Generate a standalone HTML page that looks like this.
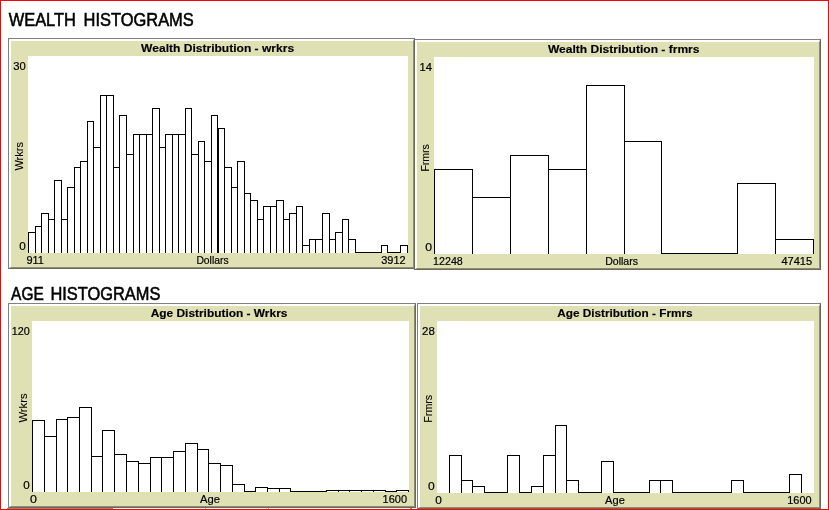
<!DOCTYPE html>
<html><head><meta charset="utf-8"><title>Histograms</title>
<style>
html,body{margin:0;padding:0;background:#fff}
body{width:829px;height:510px;position:relative;overflow:hidden;font-family:"Liberation Sans",sans-serif}
.frame{position:absolute;left:0;top:0;width:829px;height:510px;box-sizing:border-box;border:1px solid #f00}
.p{position:absolute;box-sizing:border-box;border-top:1px solid #808080;border-left:1px solid #808080;border-right:1px solid #6b6b55;border-bottom:1px solid #6b6b55}
.pi{width:100%;height:100%;box-sizing:border-box;border-top:2px solid #fff;border-left:2px solid #fff;border-right:1px solid #8c8c70;border-bottom:1px solid #8c8c70;background:#E0E0B5}
.w{position:absolute;background:#fff}
svg{position:absolute;left:0;top:0}
text{font-family:"Liberation Sans",sans-serif;fill:#000;stroke:#000;stroke-width:0.2px}
text.big{stroke-width:0.55px}
text.b{stroke-width:0.15px}
text.r{stroke-width:0.1px}
</style></head><body>
<div class="p" style="left:414px;top:39px;width:407px;height:231px"><div class="pi"></div></div>
<div class="w" style="left:434px;top:57px;width:380px;height:197px"></div>

<div class="p" style="left:8px;top:38px;width:407px;height:231px"><div class="pi"></div></div>
<div class="w" style="left:28px;top:56px;width:380px;height:197px"></div>

<div class="p" style="left:417px;top:303px;width:404px;height:206px"><div class="pi"></div></div>
<div class="w" style="left:437px;top:321px;width:377px;height:172px"></div>

<div class="p" style="left:8px;top:303px;width:408px;height:205px"><div class="pi"></div></div>
<div class="w" style="left:32px;top:321px;width:377px;height:171px"></div>

<div class="w" style="left:7px;top:508px;width:106px;height:1px;background:#7d8a86"></div>
<div class="w" style="left:205px;top:508px;width:1px;height:1px;background:#9aa"></div><div class="w" style="left:268px;top:508px;width:1px;height:1px;background:#9aa"></div><div class="w" style="left:410px;top:508px;width:2px;height:1px;background:#8090b0"></div>
<svg width="829" height="510" viewBox="0 0 829 510">
<path d="M28.5 232V253M35.5 232V253M28 232.5H36M35.5 226V253M41.5 226V253M35 226.5H42M41.5 213V253M48.5 213V253M41 213.5H49M48.5 219V253M54.5 219V253M48 219.5H55M54.5 180V253M61.5 180V253M54 180.5H62M61.5 219V253M67.5 219V253M61 219.5H68M67.5 187V253M74.5 187V253M67 187.5H75M74.5 167V253M80.5 167V253M74 167.5H81M80.5 161V253M87.5 161V253M80 161.5H88M87.5 121V253M93.5 121V253M87 121.5H94M93.5 147V253M100.5 147V253M93 147.5H101M100.5 95V253M106.5 95V253M100 95.5H107M106.5 95V253M113.5 95V253M106 95.5H114M113.5 167V253M119.5 167V253M113 167.5H120M119.5 115V253M126.5 115V253M119 115.5H127M126.5 154V253M133.5 154V253M126 154.5H134M133.5 134V253M139.5 134V253M133 134.5H140M139.5 134V253M146.5 134V253M139 134.5H147M146.5 134V253M152.5 134V253M146 134.5H153M152.5 108V253M159.5 108V253M152 108.5H160M159.5 147V253M165.5 147V253M159 147.5H166M165.5 134V253M172.5 134V253M165 134.5H173M172.5 134V253M178.5 134V253M172 134.5H179M178.5 134V253M185.5 134V253M178 134.5H186M185.5 108V253M191.5 108V253M185 108.5H192M191.5 154V253M198.5 154V253M191 154.5H199M198.5 141V253M204.5 141V253M198 141.5H205M204.5 161V253M211.5 161V253M204 161.5H212M211.5 115V253M217.5 115V253M211 115.5H218M217.5 128V253M224.5 128V253M217 128.5H225M224.5 167V253M231.5 167V253M224 167.5H232M231.5 187V253M237.5 187V253M231 187.5H238M237.5 161V253M244.5 161V253M237 161.5H245M244.5 193V253M250.5 193V253M244 193.5H251M250.5 200V253M257.5 200V253M250 200.5H258M257.5 219V253M263.5 219V253M257 219.5H264M263.5 206V253M270.5 206V253M263 206.5H271M270.5 206V253M276.5 206V253M270 206.5H277M276.5 200V253M283.5 200V253M276 200.5H284M283.5 219V253M289.5 219V253M283 219.5H290M289.5 213V253M296.5 213V253M289 213.5H297M296.5 206V253M302.5 206V253M296 206.5H303M302.5 245V253M309.5 245V253M302 245.5H310M309.5 239V253M315.5 239V253M309 239.5H316M315.5 239V253M322.5 239V253M315 239.5H323M322.5 213V253M329.5 213V253M322 213.5H330M329.5 239V253M335.5 239V253M329 239.5H336M335.5 232V253M342.5 232V253M335 232.5H343M342.5 219V253M348.5 219V253M342 219.5H349M348.5 239V253M355.5 239V253M348 239.5H356M355 252.5H362M361 252.5H369M368 252.5H375M374 252.5H382M381.5 245V253M387.5 245V253M381 245.5H388M387 252.5H395M394 252.5H401M400.5 245V253M407.5 245V253M400 245.5H408M218.5 128V253M434.5 169V254M472.5 169V254M434 169.5H473M472.5 197V254M510.5 197V254M472 197.5H511M510.5 155V254M548.5 155V254M510 155.5H549M548.5 169V254M586.5 169V254M548 169.5H587M586.5 85V254M624.5 85V254M586 85.5H625M624.5 141V254M661.5 141V254M624 141.5H662M661 253.5H700M699 253.5H738M737.5 183V254M775.5 183V254M737 183.5H776M775.5 239V254M813.5 239V254M775 239.5H814M32.5 420V492M44.5 420V492M32 420.5H45M44.5 436V492M56.5 436V492M44 436.5H57M56.5 419V492M67.5 419V492M56 419.5H68M67.5 417V492M79.5 417V492M67 417.5H80M79.5 407V492M91.5 407V492M79 407.5H92M91.5 456V492M102.5 456V492M91 456.5H103M102.5 430V492M114.5 430V492M102 430.5H115M114.5 454V492M126.5 454V492M114 454.5H127M126.5 461V492M138.5 461V492M126 461.5H139M138.5 463V492M150.5 463V492M138 463.5H151M150.5 457V492M161.5 457V492M150 457.5H162M161.5 457V492M173.5 457V492M161 457.5H174M173.5 451V492M185.5 451V492M173 451.5H186M185.5 443V492M197.5 443V492M185 443.5H198M197.5 449V492M208.5 449V492M197 449.5H209M208.5 463V492M220.5 463V492M208 463.5H221M220.5 465V492M232.5 465V492M220 465.5H233M232.5 484V492M244.5 484V492M232 484.5H245M244 491.5H256M255.5 487V492M267.5 487V492M255 487.5H268M267.5 488V492M279.5 488V492M267 488.5H280M279.5 488V492M290.5 488V492M279 488.5H291M290 491.5H303M302 491.5H315M314 491.5H327M326.5 490V492M338.5 490V492M326 490.5H339M338.5 490V492M349.5 490V492M338 490.5H350M349.5 490V492M361.5 490V492M349 490.5H362M361.5 490V492M373.5 490V492M361 490.5H374M373.5 490V492M385.5 490V492M373 490.5H386M385 491.5H397M396.5 490V492M408.5 490V492M396 490.5H409M449.5 455V493M461.5 455V493M449 455.5H462M461.5 480V493M472.5 480V493M461 480.5H473M472.5 486V493M484.5 486V493M472 486.5H485M484 492.5H497M496 492.5H508M507.5 455V493M519.5 455V493M507 455.5H520M519 492.5H532M531.5 486V493M543.5 486V493M531 486.5H544M543.5 455V493M555.5 455V493M543 455.5H556M555.5 425V493M566.5 425V493M555 425.5H567M566.5 480V493M578.5 480V493M566 480.5H579M578 492.5H591M590 492.5H602M601.5 461V493M613.5 461V493M601 461.5H614M613 492.5H626M625 492.5H638M637 492.5H650M649.5 480V493M660.5 480V493M649 480.5H661M660.5 480V493M672.5 480V493M660 480.5H673M672 492.5H685M684 492.5H696M695 492.5H708M707 492.5H720M719 492.5H732M731.5 480V493M743.5 480V493M731 480.5H744M743 492.5H755M754 492.5H767M766 492.5H779M778 492.5H790M789.5 474V493M801.5 474V493M789 474.5H802" stroke="#000" stroke-width="1" fill="none" shape-rendering="crispEdges"/>
<text y="26" font-size="18" class="big"><tspan x="8.7" textLength="67.2" lengthAdjust="spacingAndGlyphs">WEALTH</tspan> <tspan x="83.5" textLength="110.3" lengthAdjust="spacingAndGlyphs">HISTOGRAMS</tspan></text>
<text y="300" font-size="18" class="big"><tspan x="11.1" textLength="32.6" lengthAdjust="spacingAndGlyphs">AGE</tspan> <tspan x="50.4" textLength="110.0" lengthAdjust="spacingAndGlyphs">HISTOGRAMS</tspan></text>
<text x="141.1" y="52" font-size="11" font-weight="bold" class="b" textLength="153.0" lengthAdjust="spacingAndGlyphs">Wealth Distribution - wrkrs</text>
<text x="13.2" y="70" font-size="11" textLength="12.5" lengthAdjust="spacingAndGlyphs">30</text>
<text x="19.2" y="250" font-size="11" textLength="6.5" lengthAdjust="spacingAndGlyphs">0</text>
<text x="26.4" y="264" font-size="11" textLength="17.5" lengthAdjust="spacingAndGlyphs">911</text>
<text x="196.4" y="264" font-size="11" textLength="32.2" lengthAdjust="spacingAndGlyphs">Dollars</text>
<text x="381.2" y="264" font-size="11" textLength="24.4" lengthAdjust="spacingAndGlyphs">3912</text>
<text class="r" transform="translate(23.4,170.6) rotate(-90)" font-size="11" textLength="28.6" lengthAdjust="spacingAndGlyphs">Wrkrs</text>
<text x="547.9" y="53" font-size="11" font-weight="bold" class="b" textLength="151.6" lengthAdjust="spacingAndGlyphs">Wealth Distribution - frmrs</text>
<text x="419.6" y="71" font-size="11" textLength="12.5" lengthAdjust="spacingAndGlyphs">14</text>
<text x="425.2" y="251" font-size="11" textLength="6.8" lengthAdjust="spacingAndGlyphs">0</text>
<text x="433.1" y="265" font-size="11" textLength="29.7" lengthAdjust="spacingAndGlyphs">12248</text>
<text x="605.2" y="265" font-size="11" textLength="32.8" lengthAdjust="spacingAndGlyphs">Dollars</text>
<text x="781.4" y="265" font-size="11" textLength="30.8" lengthAdjust="spacingAndGlyphs">47415</text>
<text class="r" transform="translate(429.2,171.6) rotate(-90)" font-size="11" textLength="27.5" lengthAdjust="spacingAndGlyphs">Frmrs</text>
<text x="150.7" y="317" font-size="11" font-weight="bold" class="b" textLength="136.7" lengthAdjust="spacingAndGlyphs">Age Distribution - Wrkrs</text>
<text x="11.7" y="335" font-size="11" textLength="18.0" lengthAdjust="spacingAndGlyphs">120</text>
<text x="23.2" y="489" font-size="11" textLength="6.5" lengthAdjust="spacingAndGlyphs">0</text>
<text x="30.1" y="503" font-size="11" textLength="6.9" lengthAdjust="spacingAndGlyphs">0</text>
<text x="200.1" y="503" font-size="11" textLength="20.0" lengthAdjust="spacingAndGlyphs">Age</text>
<text x="382.6" y="503" font-size="11" textLength="24.4" lengthAdjust="spacingAndGlyphs">1600</text>
<text class="r" transform="translate(27.3,422.6) rotate(-90)" font-size="11" textLength="29.2" lengthAdjust="spacingAndGlyphs">Wrkrs</text>
<text x="557.2" y="317" font-size="11" font-weight="bold" class="b" textLength="135.4" lengthAdjust="spacingAndGlyphs">Age Distribution - Frmrs</text>
<text x="422.1" y="335" font-size="11" textLength="12.7" lengthAdjust="spacingAndGlyphs">28</text>
<text x="428.1" y="490" font-size="11" textLength="6.7" lengthAdjust="spacingAndGlyphs">0</text>
<text x="435.3" y="503.5" font-size="11" textLength="6.6" lengthAdjust="spacingAndGlyphs">0</text>
<text x="605.1" y="504" font-size="11" textLength="19.7" lengthAdjust="spacingAndGlyphs">Age</text>
<text x="787.3" y="503.5" font-size="11" textLength="24.3" lengthAdjust="spacingAndGlyphs">1600</text>
<text class="r" transform="translate(432,422.7) rotate(-90)" font-size="11" textLength="27.9" lengthAdjust="spacingAndGlyphs">Frmrs</text>
</svg>
<div class="frame"></div>
</body></html>
